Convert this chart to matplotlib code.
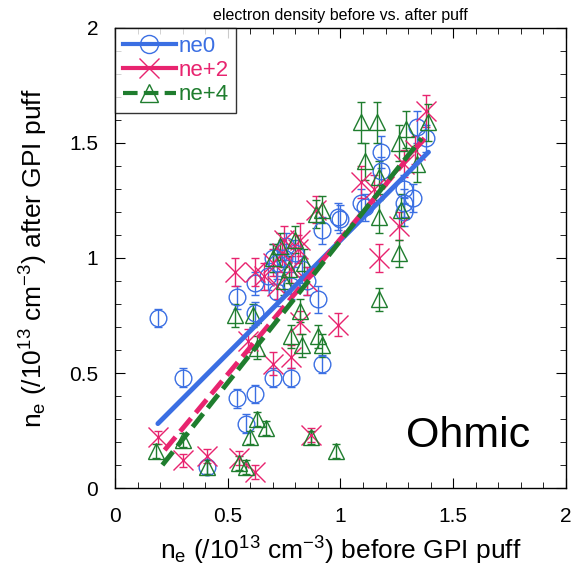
import matplotlib.pyplot as plt

plt.rcParams['font.family'] = ['Liberation Sans', 'DejaVu Sans']
plt.rcParams['mathtext.fontset'] = 'custom'
plt.rcParams['mathtext.rm'] = 'Liberation Sans'
plt.rcParams['mathtext.it'] = 'Liberation Sans'

# ne0 (blue circles)
ne0_x = [0.19, 0.30, 0.41, 0.54, 0.62, 0.58, 0.70, 0.78, 0.92, 0.54, 0.62, 0.62, 0.90,
         0.99, 0.92, 1.09, 1.18, 1.38, 1.11, 1.28, 1.28, 1.32, 1.00, 1.34, 1.28, 1.18,
         0.68, 0.72, 0.75, 0.78, 0.80, 0.83, 0.72, 0.76, 0.85, 0.70]
ne0_y = [0.74, 0.48, 0.09, 0.39, 0.41, 0.28, 0.48, 0.48, 0.54, 0.83, 0.89, 0.76, 0.82,
         1.18, 1.12, 1.24, 1.46, 1.52, 1.22, 1.30, 1.24, 1.26, 1.17, 1.57, 1.20, 1.38,
         0.92, 0.98, 1.00, 0.88, 1.02, 0.95, 0.85, 1.05, 0.90, 1.00]
ne0_err = [0.04, 0.04, 0.03, 0.04, 0.04, 0.04, 0.04, 0.04, 0.04, 0.05, 0.05, 0.05, 0.06,
           0.06, 0.06, 0.06, 0.07, 0.06, 0.06, 0.06, 0.06, 0.06, 0.06, 0.07, 0.06, 0.06,
           0.06, 0.06, 0.06, 0.06, 0.06, 0.06, 0.06, 0.06, 0.06, 0.06]

# ne+2 (pink crosses)
ne2_x = [0.19, 0.30, 0.41, 0.55, 0.62, 0.87, 0.53, 0.62, 0.70, 0.78, 0.99, 0.82, 0.59,
         0.82, 0.89, 0.75, 1.38, 1.09, 1.17, 1.26, 1.33, 1.28, 1.15,
         0.70, 0.74, 0.78, 0.81, 0.85, 0.66, 0.72]
ne2_y = [0.22, 0.12, 0.14, 0.13, 0.07, 0.23, 0.94, 0.94, 0.54, 0.57, 0.71, 0.72, 0.64,
         1.08, 1.21, 1.08, 1.64, 1.33, 1.00, 1.14, 1.47, 1.41, 1.30,
         0.98, 1.02, 0.95, 1.04, 0.90, 0.92, 0.88]
ne2_err = [0.03, 0.03, 0.03, 0.03, 0.03, 0.03, 0.06, 0.06, 0.05, 0.05, 0.05, 0.05, 0.05,
           0.07, 0.06, 0.06, 0.07, 0.07, 0.06, 0.06, 0.06, 0.06, 0.06,
           0.06, 0.06, 0.06, 0.06, 0.06, 0.06, 0.06]

# ne+4 (green triangles)
ne4_x = [0.18, 0.30, 0.41, 0.55, 0.58, 0.60, 0.63, 0.67, 0.87, 0.98, 0.53, 0.61, 0.63,
         0.78, 0.83, 0.90, 0.92, 0.82, 0.89, 0.92, 1.09, 1.16, 1.11, 1.39, 1.29, 1.26,
         1.34, 1.17, 1.27, 1.26, 1.17, 1.17, 0.70, 0.73, 0.77, 0.80, 0.84, 0.75]
ne4_y = [0.16, 0.21, 0.09, 0.11, 0.09, 0.22, 0.30, 0.26, 0.22, 0.16, 0.75, 0.75, 0.61,
         0.66, 0.62, 0.66, 0.62, 0.77, 1.19, 1.21, 1.59, 1.59, 1.42, 1.59, 1.56, 1.50,
         1.41, 1.18, 1.21, 1.02, 0.82, 1.35, 1.00, 1.05, 0.95, 1.08, 0.98, 0.90]
ne4_err = [0.03, 0.03, 0.03, 0.03, 0.03, 0.03, 0.03, 0.03, 0.03, 0.03, 0.05, 0.05, 0.05,
           0.05, 0.05, 0.05, 0.05, 0.05, 0.06, 0.06, 0.09, 0.09, 0.08, 0.08, 0.08, 0.08,
           0.08, 0.07, 0.07, 0.06, 0.05, 0.07, 0.06, 0.06, 0.06, 0.06, 0.06, 0.06]

# linear fit end points
fit0_x = [0.19, 1.39]
fit0_y = [0.28, 1.46]
fit2_x = [0.22, 1.38]
fit2_y = [0.165, 1.53]
fit4_x = [0.21, 1.36]
fit4_y = [0.10, 1.52]

blue = '#3b6fe3'
pink = '#e8246f'
green = '#1f7d2e'

fig = plt.figure(figsize=(5.81, 5.81), dpi=100)
ax = fig.add_axes([0.198, 0.160, 0.776, 0.792])

ax.errorbar(ne0_x, ne0_y, yerr=ne0_err, fmt='o', ms=12, mfc='none', mec=blue, mew=1,
            ecolor=blue, elinewidth=1, capsize=3, zorder=3)
ax.errorbar(ne2_x, ne2_y, yerr=ne2_err, fmt='x', ms=14, mec=pink, mew=1,
            ecolor=pink, elinewidth=1, capsize=3, zorder=3)
ax.errorbar(ne4_x, ne4_y, yerr=ne4_err, fmt='^', ms=12, mfc='none', mec=green, mew=1,
            ecolor=green, elinewidth=1, capsize=3, zorder=3)

ax.plot(fit0_x, fit0_y, color=blue, lw=3.5, solid_capstyle='round', zorder=4)
ax.plot(fit2_x, fit2_y, color=pink, lw=3.5, dashes=(3.5, 1.5), zorder=4)
ax.plot(fit4_x, fit4_y, color=green, lw=3.5, dashes=(3.5, 1.5), zorder=4)

# legend handles
h0, = ax.plot([], [], color=blue, lw=3, marker='o', ms=13, mfc='none', mec=blue)
h2, = ax.plot([], [], color=pink, lw=3, marker='x', ms=14, mec=pink)
h4, = ax.plot([], [], color=green, lw=3, dashes=(3.5, 1.5), marker='^', ms=13,
              mfc='none', mec=green)
leg = ax.legend([h0, h2, h4], ['ne0', 'ne+2', 'ne+4'], loc='upper left', fontsize=16,
                frameon=True, fancybox=False, edgecolor='black', borderaxespad=0,
                handlelength=2.4, handletextpad=0.1, labelspacing=0.15, borderpad=0.35)
leg.get_frame().set_linewidth(1)
for t, c in zip(leg.get_texts(), [blue, pink, green]):
    t.set_color(c)

ax.text(1.84, 0.18, 'Ohmic', fontsize=31, ha='right', va='baseline')

ax.set_xlim(0, 2)
ax.set_ylim(0, 2)
ax.set_xticks([0, 0.5, 1, 1.5, 2])
ax.set_xticklabels(['0', '0.5', '1', '1.5', '2'])
ax.set_yticks([0, 0.5, 1, 1.5, 2])
ax.set_yticklabels(['0', '0.5', '1', '1.5', '2'])
ax.set_xticks([i / 10 for i in range(21)], minor=True)
ax.set_yticks([i / 10 for i in range(21)], minor=True)
ax.tick_params(which='both', direction='in', top=True, right=True, labelsize=15)
ax.tick_params(axis='x', which='major', pad=14)
ax.tick_params(axis='y', which='major', pad=12)
ax.tick_params(which='major', length=7)
ax.tick_params(which='minor', length=4)
for s in ax.spines.values():
    s.set_linewidth(1)

ax.set_xlabel('n$_{e}$ (/10$^{13}$ cm$^{-3}$) before GPI puff', fontsize=19, labelpad=6)
ax.set_ylabel('n$_{e}$ (/10$^{13}$ cm$^{-3}$) after GPI puff', fontsize=19, labelpad=14)
ax.set_title('electron density before vs. after puff', fontsize=11.5, pad=6)

fig.savefig('out.png', dpi=100)
